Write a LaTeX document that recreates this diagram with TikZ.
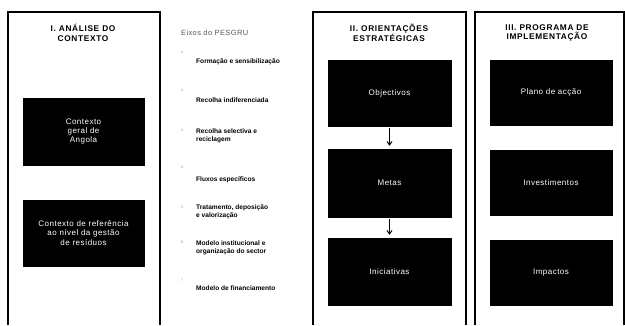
\documentclass[tikz,border=0pt]{standalone}
\usepackage{fontspec}
\setmainfont{Liberation Sans}
\usetikzlibrary{arrows.meta}
\begin{document}
\begin{tikzpicture}[x=1pt,y=-1pt,
  panel/.style={line width=1.2pt,draw=black},
  blackbox/.style={fill=black,draw=black,text=white,align=center,inner sep=0pt,
    font=\fontsize{8}{9.3}\selectfont\addfontfeatures{LetterSpace=6}},
  ptitle/.style={align=center,font=\bfseries\fontsize{8.3}{9.8}\selectfont\addfontfeatures{LetterSpace=8}},
  item/.style={anchor=west,align=left,inner sep=0pt,font=\bfseries\fontsize{6.6}{8.3}\selectfont},
  num/.style={inner sep=0pt,text=gray,font=\fontsize{3.5}{4}\selectfont},
  flow/.style={line width=1pt,-{Straight Barb[length=3.5pt,width=5pt]},shorten <=2pt,shorten >=3pt}]
\useasboundingbox (0,0) rectangle (625,325);
% panels
\draw[panel] (8,325) -- (8,12) -- (160,12) -- (160,325);
\draw[panel] (313,325) -- (313,12) -- (466,12) -- (466,325);
\draw[panel] (475,325) -- (475,12) -- (624,12) -- (624,325);
% titles
\node[ptitle] (t1) at (83,33) {I. ANÁLISE DO\\CONTEXTO};
\node[ptitle] (t3) at (389,33) {II. ORIENTAÇÕES\\ESTRATÉGICAS};
\node[ptitle] (t4) at (547,33) {III. PROGRAMA DE\\IMPLEMENTAÇÃO};
% panel 1 boxes
\node[blackbox,minimum width=121pt,minimum height=67pt] (a1) at (83.5,131.5) {Contexto\\geral de\\Angola};
\node[blackbox,minimum width=121pt,minimum height=66pt] (a2) at (83.5,233) {Contexto de referência\\ao nível da gestão\\de resíduos};
% list
\node[anchor=west,inner sep=0pt,text=black!65,font=\fontsize{7.5}{9}\selectfont\addfontfeatures{LetterSpace=5}] (h) at (181,33) {Eixos do PESGRU};
\node[num] (n1) at (182,52) {1};
\node[item] (i1) at (196,62) {Formação e sensibilização};
\node[num] (n2) at (182,90) {2};
\node[item] (i2) at (196,100) {Recolha indiferenciada};
\node[num] (n3) at (182,130) {3};
\node[item] (i3) at (196,136) {Recolha selectiva e\\reciclagem};
\node[num] (n4) at (182,167) {4};
\node[item] (i4) at (196,180) {Fluxos específicos};
\node[num] (n5) at (182,207) {5};
\node[item] (i5) at (196,211.5) {Tratamento, deposição\\e valorização};
\node[num] (n6) at (182,242) {6};
\node[item] (i6) at (196,247.5) {Modelo institucional e\\organização do sector};
\node[num] (n7) at (182,280) {7};
\node[item] (i7) at (196,288) {Modelo de financiamento};
% panel 3 boxes
\node[blackbox,minimum width=123pt,minimum height=66pt] (b1) at (389.5,93) {Objectivos};
\node[blackbox,minimum width=123pt,minimum height=68pt] (b2) at (389.5,183) {Metas};
\node[blackbox,minimum width=123pt,minimum height=67pt] (b3) at (389.5,271.5) {Iniciativas};
\draw[flow] (b1.south) -- (b2.north);
\draw[flow] (b2.south) -- (b3.north);
% panel 4 boxes
\node[blackbox,minimum width=122pt,minimum height=65pt] (c1) at (551,92.5) {Plano de acção};
\node[blackbox,minimum width=122pt,minimum height=65pt] (c2) at (551,182.5) {Investimentos};
\node[blackbox,minimum width=122pt,minimum height=65pt] (c3) at (551,272.5) {Impactos};
\end{tikzpicture}
\end{document}
